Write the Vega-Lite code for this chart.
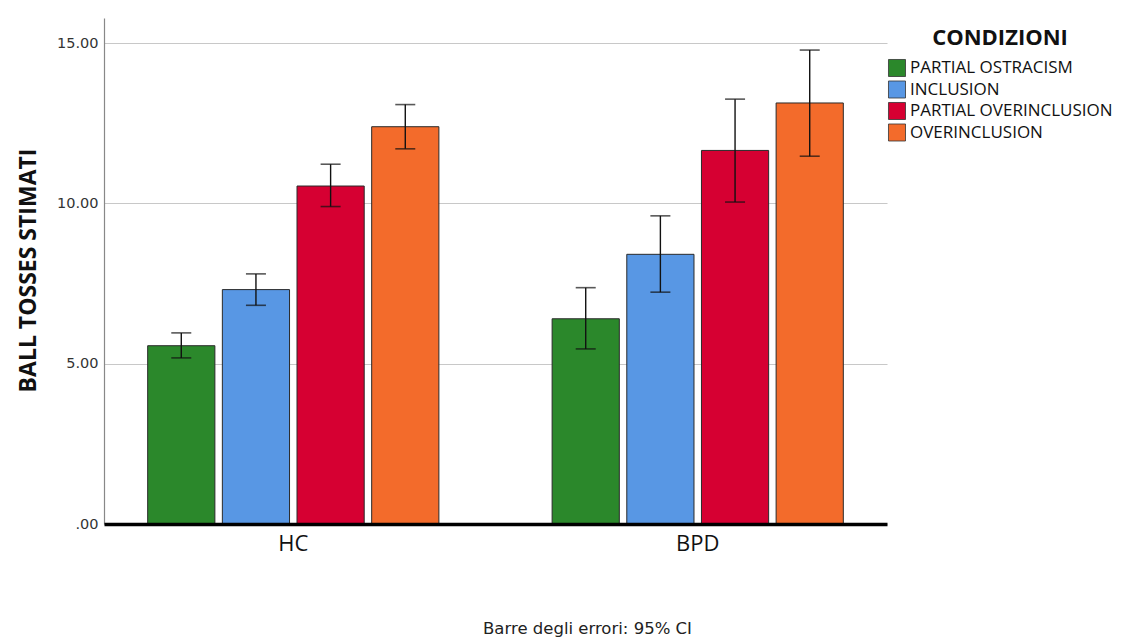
{
  "$schema": "https://vega.github.io/schema/vega-lite/v6.json",
  "autosize": {"type": "none"},
  "width": 783,
  "height": 506,
  "padding": {"left": 104, "top": 18, "right": 256, "bottom": 116},
  "background": "white",
  "config": {
    "view": {"stroke": null},
    "font": "Open Sans"
  },
  "data": {
    "values": [
      {"group": "HC", "cond": "PARTIAL OSTRACISM", "mean": 5.56, "lo": 5.18, "hi": 5.96},
      {"group": "HC", "cond": "INCLUSION", "mean": 7.31, "lo": 6.82, "hi": 7.80},
      {"group": "HC", "cond": "PARTIAL OVERINCLUSION", "mean": 10.54, "lo": 9.90, "hi": 11.22},
      {"group": "HC", "cond": "OVERINCLUSION", "mean": 12.39, "lo": 11.70, "hi": 13.08},
      {"group": "BPD", "cond": "PARTIAL OSTRACISM", "mean": 6.40, "lo": 5.46, "hi": 7.37},
      {"group": "BPD", "cond": "INCLUSION", "mean": 8.41, "lo": 7.23, "hi": 9.61},
      {"group": "BPD", "cond": "PARTIAL OVERINCLUSION", "mean": 11.65, "lo": 10.04, "hi": 13.25},
      {"group": "BPD", "cond": "OVERINCLUSION", "mean": 13.13, "lo": 11.47, "hi": 14.78}
    ]
  },
  "encoding": {
    "x": {
      "field": "group", "type": "nominal", "sort": ["HC", "BPD"],
      "scale": {"paddingInner": 0.28, "paddingOuter": 0.108},
      "axis": {
        "title": "Barre degli errori: 95% CI",
        "titleFont": "DejaVu Sans", "titleFontSize": 16.5, "titleFontWeight": "normal", "titleColor": "#222",
        "titleX": 483, "titleY": 104, "titleBaseline": "middle", "titleAnchor": null,
        "labelAngle": 0, "labelFontSize": 22, "labelColor": "#111", "labelFont": "Open Sans",
        "labelPadding": 9, "ticks": false,
        "domainColor": "#000", "domainWidth": 3.5, "zindex": 1
      }
    },
    "xOffset": {
      "field": "cond", "type": "nominal",
      "sort": ["PARTIAL OSTRACISM", "INCLUSION", "PARTIAL OVERINCLUSION", "OVERINCLUSION"],
      "scale": {"paddingInner": 0.1, "paddingOuter": 0}
    }
  },
  "layer": [
    {
      "mark": {"type": "bar", "stroke": "#2a2a2a", "strokeWidth": 1},
      "encoding": {
        "y": {
          "field": "mean", "type": "quantitative",
          "scale": {"domain": [0, 15.78], "nice": false, "zero": true},
          "axis": {
            "values": [0, 5, 10, 15],
            "labelExpr": "datum.value == 0 ? '.00' : format(datum.value, '.2f')",
            "title": "BALL TOSSES STIMATI",
            "titleFontSize": 23, "titleFontWeight": "bold", "titleColor": "#111",
            "titleX": -76, "titleY": 252, "titleAngle": -90, "titleAlign": "center", "titleBaseline": "middle",
            "labelFont": "DejaVu Sans", "labelFontSize": 14.5, "labelColor": "#333", "labelPadding": 6,
            "ticks": false, "grid": true, "gridColor": "#c8c8c8", "gridWidth": 1.2,
            "domainColor": "#888", "domainWidth": 1.2
          }
        },
        "color": {
          "field": "cond", "type": "nominal",
          "sort": ["PARTIAL OSTRACISM", "INCLUSION", "PARTIAL OVERINCLUSION", "OVERINCLUSION"],
          "scale": {
            "domain": ["PARTIAL OSTRACISM", "INCLUSION", "PARTIAL OVERINCLUSION", "OVERINCLUSION"],
            "range": ["#2b882b", "#5897e4", "#d60032", "#f36b2b"]
          },
          "legend": {
            "title": "CONDIZIONI",
            "orient": "none", "legendX": 784, "legendY": 10,
            "titleFontSize": 22, "titleFontWeight": "bold", "titleColor": "#111",
            "titleAnchor": "middle", "titlePadding": 9,
            "labelFontSize": 17, "labelColor": "#111", "labelOffset": 4, "labelLimit": 400,
            "symbolType": "square", "symbolSize": 290, "symbolStrokeColor": "#333", "symbolStrokeWidth": 0.8,
            "rowPadding": -0.5, "padding": 0
          }
        }
      }
    },
    {
      "mark": {"type": "rule", "color": "#111", "strokeWidth": 1.4},
      "encoding": {"y": {"field": "lo", "type": "quantitative"}, "y2": {"field": "hi"}}
    },
    {
      "mark": {"type": "tick", "color": "#111", "thickness": 1.6, "size": 20},
      "encoding": {"y": {"field": "lo", "type": "quantitative"}}
    },
    {
      "mark": {"type": "tick", "color": "#111", "thickness": 1.6, "size": 20},
      "encoding": {"y": {"field": "hi", "type": "quantitative"}}
    }
  ]
}
